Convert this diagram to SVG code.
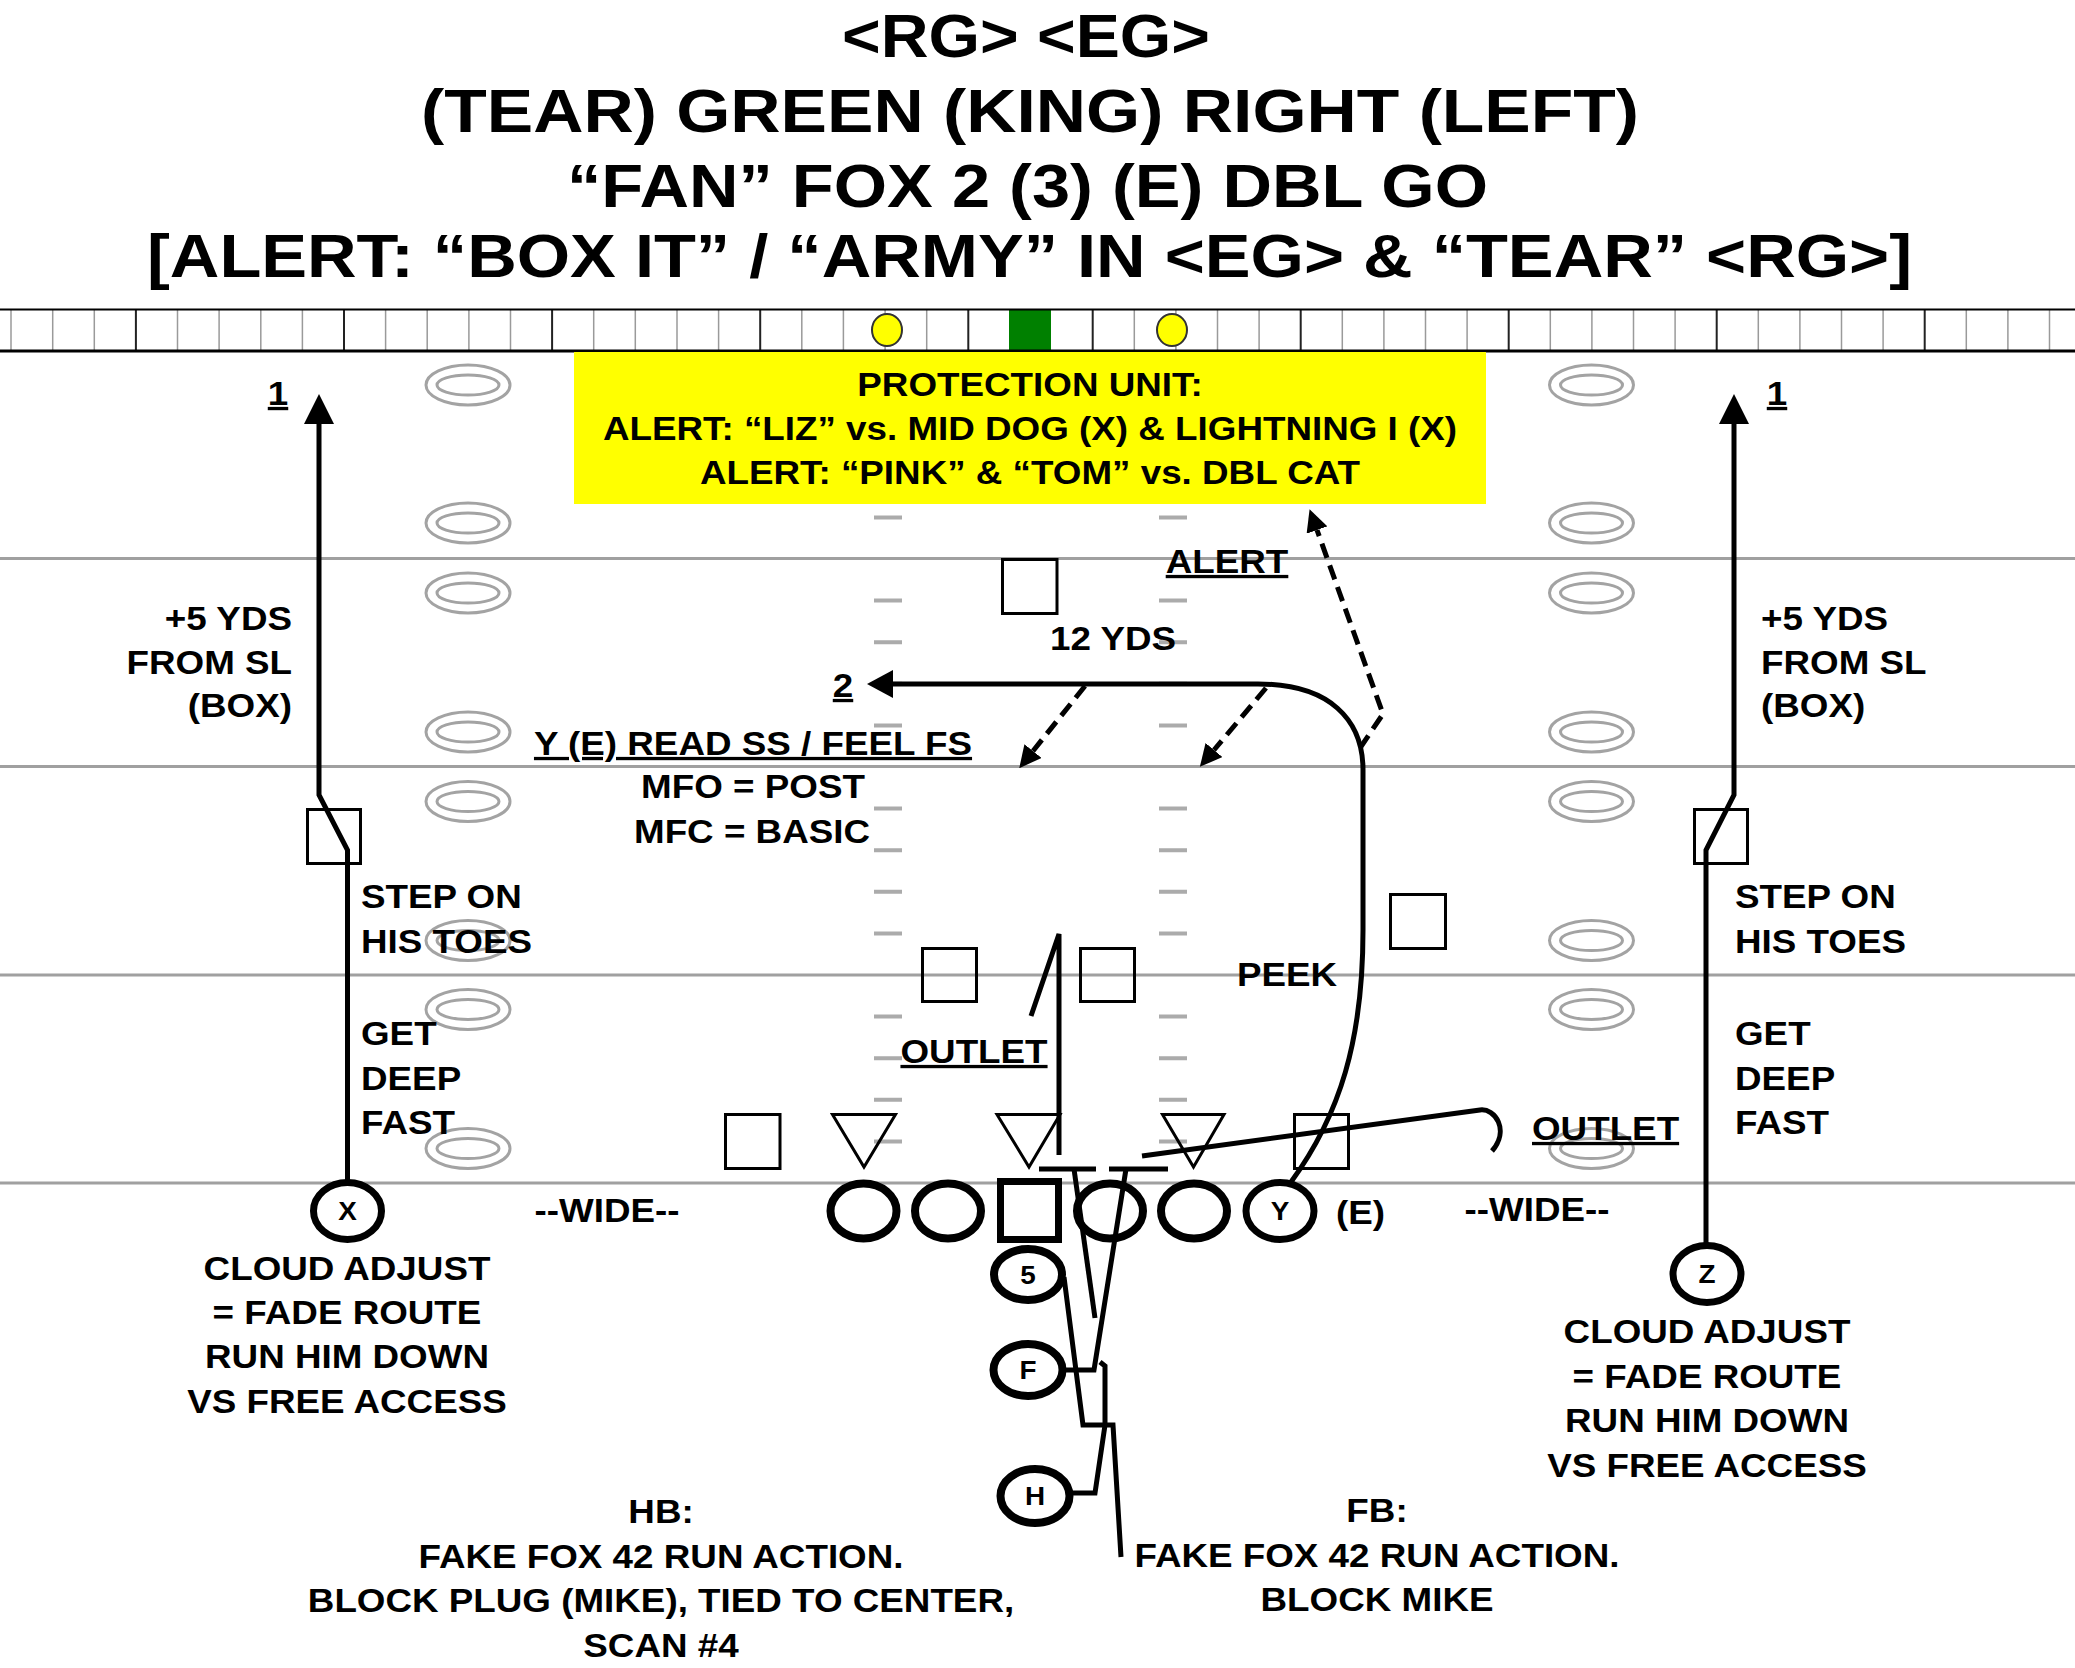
<svg xmlns="http://www.w3.org/2000/svg" width="2075" height="1668" viewBox="0 0 2075 1668">
<style>
text{font-family:"Liberation Sans",Arial,sans-serif;font-weight:bold;fill:#000}
.t{font-size:33px}
.ttl{font-size:61px}
.u{text-decoration:underline}
.m{text-anchor:middle}
.e{text-anchor:end}
.lbl{font-size:25px;text-anchor:middle}
.yl{stroke:#a0a0a0;stroke-width:3;fill:none}
.ho{stroke:#a3a3a3;stroke-width:3;fill:none}
.hd{stroke:#ababab;stroke-width:4;fill:none}
.sq{fill:none;stroke:#000;stroke-width:3}
.pl{fill:#fff;stroke:#000;stroke-width:7}
.pb{fill:#fff;stroke:#000;stroke-width:8}
.rt{fill:none;stroke:#000;stroke-width:5}
.ds{fill:none;stroke:#000;stroke-width:5;stroke-dasharray:15 8}
</style>
<defs>
<marker id="ah" viewBox="0 0 30 30" refX="0" refY="15" markerWidth="30" markerHeight="30" markerUnits="userSpaceOnUse" orient="auto"><path d="M0,0L30,15L0,30z" fill="#000"/></marker>
<marker id="ah2" viewBox="0 0 26 28" refX="0" refY="14" markerWidth="26" markerHeight="28" markerUnits="userSpaceOnUse" orient="auto"><path d="M0,0L26,14L0,28z" fill="#000"/></marker>
<marker id="ahd" viewBox="0 0 22 22" refX="0" refY="11" markerWidth="22" markerHeight="22" markerUnits="userSpaceOnUse" orient="auto"><path d="M0,0L22,11L0,22z" fill="#000"/></marker>
<g id="hoval"><ellipse rx="42" ry="20" class="ho"/><ellipse rx="31" ry="10" class="ho"/></g>
</defs>
<rect width="2075" height="1668" fill="#fff"/>

<g id="title">
<text class="ttl" x="842" y="57" textLength="368" lengthAdjust="spacingAndGlyphs">&lt;RG&gt; &lt;EG&gt;</text>
<text class="ttl" x="421" y="132" textLength="1218" lengthAdjust="spacingAndGlyphs">(TEAR) GREEN (KING) RIGHT (LEFT)</text>
<text class="ttl" x="567" y="207" textLength="921" lengthAdjust="spacingAndGlyphs">“FAN” FOX 2 (3) (E) DBL GO</text>
<text class="ttl" x="147" y="277" textLength="1765" lengthAdjust="spacingAndGlyphs">[ALERT: “BOX IT” / “ARMY” IN &lt;EG&gt; &amp; “TEAR” &lt;RG&gt;]</text>
</g>

<g id="field">
<path class="yl" d="M0 558.5H2075M0 766.5H2075M0 975H2075M0 1183H2075"/>
<g id="hash-ovals">
<use href="#hoval" x="468" y="385"/><use href="#hoval" x="468" y="523"/><use href="#hoval" x="468" y="593"/><use href="#hoval" x="468" y="732"/><use href="#hoval" x="468" y="801.5"/><use href="#hoval" x="468" y="940.5"/><use href="#hoval" x="468" y="1009.5"/><use href="#hoval" x="468" y="1148.5"/>
<use href="#hoval" x="1591.5" y="385"/><use href="#hoval" x="1591.5" y="523"/><use href="#hoval" x="1591.5" y="593"/><use href="#hoval" x="1591.5" y="732"/><use href="#hoval" x="1591.5" y="801.5"/><use href="#hoval" x="1591.5" y="940.5"/><use href="#hoval" x="1591.5" y="1009.5"/><use href="#hoval" x="1591.5" y="1148.5"/>
</g>
<path class="hd" d="M874 517.4H902M874 600.6H902M874 642.2H902M874 683.8H902M874 725.4H902M874 808.6H902M874 850.2H902M874 891.8H902M874 933.4H902M874 1016.6H902M874 1058.2H902M874 1099.8H902M874 1141.4H902
M1159 517.4H1187M1159 600.6H1187M1159 642.2H1187M1159 683.8H1187M1159 725.4H1187M1159 808.6H1187M1159 850.2H1187M1159 891.8H1187M1159 933.4H1187M1159 1016.6H1187M1159 1058.2H1187M1159 1099.8H1187M1159 1141.4H1187"/>
</g>

<g id="strip">
<rect x="0" y="309" width="2075" height="42" fill="#fff"/>
<path stroke="#9a9a9a" stroke-width="1.5" d="M11 309V351M52.7 309V351M94.3 309V351M177.5 309V351M219.1 309V351M260.8 309V351M302.4 309V351M385.6 309V351M427.2 309V351M468.9 309V351M510.5 309V351M593.7 309V351M635.3 309V351M677 309V351M718.6 309V351M801.8 309V351M843.4 309V351M885.1 309V351M926.7 309V351M1134.3 309V351M1175.9 309V351M1217.5 309V351M1259.1 309V351M1342.3 309V351M1383.9 309V351M1425.5 309V351M1467.1 309V351M1550.3 309V351M1591.9 309V351M1633.5 309V351M1675.1 309V351M1758.3 309V351M1799.9 309V351M1841.5 309V351M1883.1 309V351M1966.3 309V351M2007.9 309V351M2049.5 309V351"/>
<path stroke="#222" stroke-width="2" d="M135.9 309V351M344 309V351M552.1 309V351M760.2 309V351M968.3 309V351M1092.7 309V351M1300.7 309V351M1508.7 309V351M1716.7 309V351M1924.7 309V351"/>
<rect x="1009" y="310" width="42" height="41" fill="#008000"/>
<path stroke="#000" stroke-width="2" d="M0 309.5H2075"/>
<path stroke="#000" stroke-width="3" d="M0 351H2075"/>
<ellipse cx="887" cy="330" rx="15" ry="16" fill="#ffff00" stroke="#333" stroke-width="2"/>
<ellipse cx="1172" cy="330" rx="15" ry="16" fill="#ffff00" stroke="#333" stroke-width="2"/>
</g>

<g id="protection-unit">
<rect x="574" y="352" width="912" height="152" fill="#ffff00"/>
<text class="t m" transform="matrix(1.115 0 0 1 1030 396)">PROTECTION UNIT:</text>
<text class="t m" transform="matrix(1.115 0 0 1 1030 440)">ALERT: “LIZ” vs. MID DOG (X) &amp; LIGHTNING I (X)</text>
<text class="t m" transform="matrix(1.115 0 0 1 1030 484)">ALERT: “PINK” &amp; “TOM” vs. DBL CAT</text>
</g>

<g id="defense">
<rect class="sq" x="1002.5" y="559.5" width="54.5" height="54"/>
<rect class="sq" x="922.5" y="948.5" width="54" height="53"/>
<rect class="sq" x="1080.5" y="948.5" width="54" height="53"/>
<rect class="sq" x="1390.5" y="894.5" width="55" height="54"/>
<rect class="sq" x="725.5" y="1114.5" width="54.5" height="54"/>
<rect class="sq" x="1294.5" y="1114.5" width="54" height="54"/>
<rect class="sq" x="307.5" y="809.5" width="53" height="54"/>
<rect class="sq" x="1694.5" y="809.5" width="53" height="54"/>
<path class="sq" d="M832.5 1114.5H895.5L864 1167z"/>
<path class="sq" d="M997 1114.5H1060L1029 1167z"/>
<path class="sq" d="M1162.5 1114.5H1224L1193.5 1167z"/>
</g>

<g id="offense">
<g id="X"><ellipse class="pl" cx="347.5" cy="1211" rx="34" ry="28.5"/><text class="lbl" transform="matrix(1.115 0 0 1 347.5 1220)">X</text></g>
<g id="LT"><ellipse class="pb" cx="863.5" cy="1211" rx="33" ry="27.5"/></g>
<g id="LG"><ellipse class="pb" cx="948" cy="1211" rx="33" ry="27.5"/></g>
<g id="C"><rect class="pl" x="1000.5" y="1181.5" width="58" height="58"/><path d="M997 1240.5H1062" stroke="#000" stroke-width="5"/></g>
<g id="RG"><ellipse class="pb" cx="1110" cy="1211" rx="33" ry="27.5"/></g>
<g id="RT"><ellipse class="pb" cx="1194" cy="1211" rx="33" ry="27.5"/></g>
<g id="Y"><ellipse class="pl" cx="1280" cy="1211" rx="34" ry="28.5"/><text class="lbl" transform="matrix(1.115 0 0 1 1280 1220)">Y</text></g>
<g id="Z"><ellipse class="pl" cx="1707" cy="1274" rx="34" ry="28.5"/><text class="lbl" transform="matrix(1.115 0 0 1 1707 1283)">Z</text></g>
<g id="QB5"><ellipse class="pb" cx="1028" cy="1274.5" rx="34" ry="25.5"/><text class="lbl" transform="matrix(1.115 0 0 1 1028 1283.5)">5</text></g>
<g id="F"><ellipse class="pb" cx="1028" cy="1370" rx="34.5" ry="26"/><text class="lbl" transform="matrix(1.115 0 0 1 1028 1379)">F</text></g>
<g id="H"><ellipse class="pb" cx="1035" cy="1496" rx="34.5" ry="27"/><text class="lbl" transform="matrix(1.115 0 0 1 1035 1505)">H</text></g>
</g>

<g id="connectors">
<path class="rt" d="M347.5 1182V850L319 795V424" marker-end="url(#ah)"/>
<path class="rt" d="M1706 1245V850L1734 795V424" marker-end="url(#ah)"/>
<path class="rt" d="M1291 1182C1340 1115 1363 1040 1363 930V770C1363 720 1330 684 1258 684H893" marker-end="url(#ah2)"/>
<path class="ds" d="M1085 686L1033 751" marker-end="url(#ahd)"/>
<path class="ds" d="M1266 688L1214 750" marker-end="url(#ahd)"/>
<path class="ds" d="M1360 748L1383 714L1317 530" marker-end="url(#ahd)"/>
<path class="rt" d="M1059 1155V934L1031 1016"/>
<path class="rt" d="M1142 1156L1480 1110C1495 1108 1510 1130 1492 1151"/>
<path class="rt" d="M1039 1169H1096M1109 1169H1168"/>
<path class="rt" d="M1074 1169L1095 1318"/>
<path class="rt" d="M1126 1169L1094 1370H1062"/>
<path class="rt" d="M1069 1493H1095L1105 1425V1366L1100 1362"/>
<path class="rt" d="M1064 1277L1083 1425H1113L1121 1557"/>
</g>

<g id="labels">
<text class="t m u" transform="matrix(1.115 0 0 1 278 405)">1</text>
<text class="t m u" transform="matrix(1.115 0 0 1 1777 405)">1</text>
<text class="t e" transform="matrix(1.115 0 0 1 292 630)">+5 YDS</text>
<text class="t e" transform="matrix(1.115 0 0 1 292 674)">FROM SL</text>
<text class="t e" transform="matrix(1.115 0 0 1 292 717)">(BOX)</text>
<text class="t" transform="matrix(1.115 0 0 1 1761 630)">+5 YDS</text>
<text class="t" transform="matrix(1.115 0 0 1 1761 674)">FROM SL</text>
<text class="t" transform="matrix(1.115 0 0 1 1761 717)">(BOX)</text>
<text class="t m u" transform="matrix(1.115 0 0 1 1227 573)">ALERT</text>
<text class="t m" transform="matrix(1.115 0 0 1 1113 650)">12 YDS</text>
<text class="t m u" transform="matrix(1.115 0 0 1 843 697)">2</text>
<text class="t m u" transform="matrix(1.115 0 0 1 753 755)">Y (E) READ SS / FEEL FS</text>
<text class="t m" transform="matrix(1.115 0 0 1 753 798)">MFO = POST</text>
<text class="t m" transform="matrix(1.115 0 0 1 752 843)">MFC = BASIC</text>
<text class="t" transform="matrix(1.115 0 0 1 361 908)">STEP ON</text>
<text class="t" transform="matrix(1.115 0 0 1 361 953)">HIS TOES</text>
<text class="t" transform="matrix(1.115 0 0 1 361 1045)">GET</text>
<text class="t" transform="matrix(1.115 0 0 1 361 1090)">DEEP</text>
<text class="t" transform="matrix(1.115 0 0 1 361 1134)">FAST</text>
<text class="t" transform="matrix(1.115 0 0 1 1735 908)">STEP ON</text>
<text class="t" transform="matrix(1.115 0 0 1 1735 953)">HIS TOES</text>
<text class="t" transform="matrix(1.115 0 0 1 1735 1045)">GET</text>
<text class="t" transform="matrix(1.115 0 0 1 1735 1090)">DEEP</text>
<text class="t" transform="matrix(1.115 0 0 1 1735 1134)">FAST</text>
<text class="t m" transform="matrix(1.115 0 0 1 1287 986)">PEEK</text>
<text class="t m u" transform="matrix(1.115 0 0 1 974 1063)">OUTLET</text>
<text class="t u" transform="matrix(1.115 0 0 1 1532 1140)">OUTLET</text>
<text class="t m" transform="matrix(1.115 0 0 1 607 1222)">--WIDE--</text>
<text class="t m" transform="matrix(1.115 0 0 1 1537 1221)">--WIDE--</text>
<text class="t" transform="matrix(1.115 0 0 1 1336 1224)">(E)</text>
<text class="t m" transform="matrix(1.115 0 0 1 347 1280)">CLOUD ADJUST</text>
<text class="t m" transform="matrix(1.115 0 0 1 347 1324)">= FADE ROUTE</text>
<text class="t m" transform="matrix(1.115 0 0 1 347 1368)">RUN HIM DOWN</text>
<text class="t m" transform="matrix(1.115 0 0 1 347 1413)">VS FREE ACCESS</text>
<text class="t m" transform="matrix(1.115 0 0 1 1707 1343)">CLOUD ADJUST</text>
<text class="t m" transform="matrix(1.115 0 0 1 1707 1388)">= FADE ROUTE</text>
<text class="t m" transform="matrix(1.115 0 0 1 1707 1432)">RUN HIM DOWN</text>
<text class="t m" transform="matrix(1.115 0 0 1 1707 1477)">VS FREE ACCESS</text>
<text class="t m" transform="matrix(1.115 0 0 1 661 1523)">HB:</text>
<text class="t m" transform="matrix(1.115 0 0 1 661 1568)">FAKE FOX 42 RUN ACTION.</text>
<text class="t m" transform="matrix(1.115 0 0 1 661 1612)">BLOCK PLUG (MIKE), TIED TO CENTER,</text>
<text class="t m" transform="matrix(1.115 0 0 1 661 1657)">SCAN #4</text>
<text class="t m" transform="matrix(1.115 0 0 1 1377 1522)">FB:</text>
<text class="t m" transform="matrix(1.115 0 0 1 1377 1567)">FAKE FOX 42 RUN ACTION.</text>
<text class="t m" transform="matrix(1.115 0 0 1 1377 1611)">BLOCK MIKE</text>
</g>
</svg>
